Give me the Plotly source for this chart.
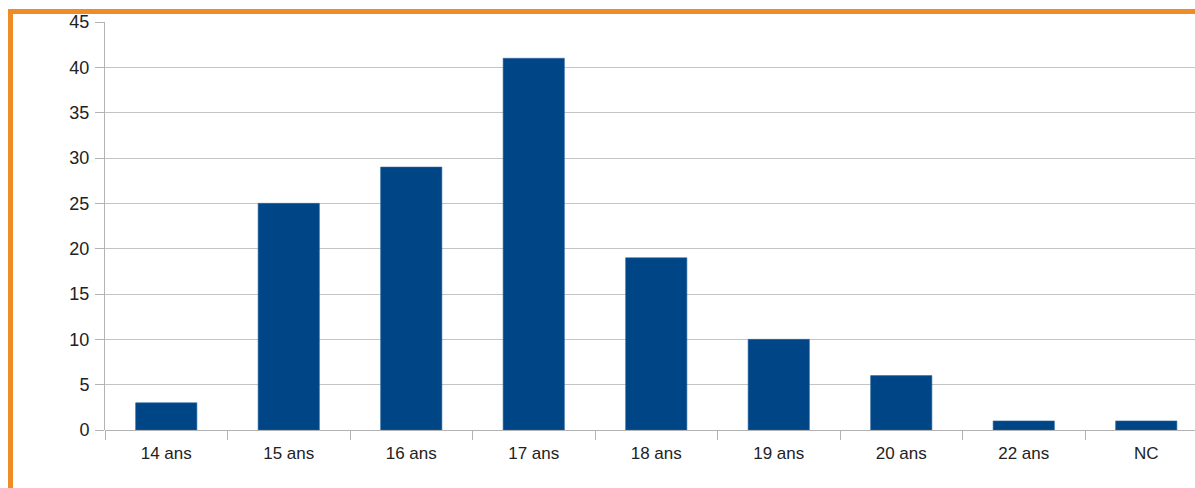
import plotly.graph_objects as go

categories = ["14 ans", "15 ans", "16 ans", "17 ans", "18 ans", "19 ans", "20 ans", "22 ans", "NC"]
values = [3, 25, 29, 41, 19, 10, 6, 1, 1]
y_ticks = [0, 5, 10, 15, 20, 25, 30, 35, 40, 45]

W, H = 1195, 488
L, T, B = 105, 22, 58
plot_w = W - L
plot_h = H - T - B
cat_px = 122.5
n_visible = plot_w / cat_px

fig = go.Figure()
fig.add_trace(go.Bar(
    x=categories, y=values, width=0.5,
    marker=dict(color="#004586", line=dict(color="#2a6aa8", width=0.6)),
    hoverinfo="x+y",
))

font = dict(family="Liberation Sans, Arial, sans-serif", size=18, color="#222222")

fig.update_layout(
    width=W, height=H,
    margin=dict(l=L, r=0, t=T, b=B, pad=0),
    paper_bgcolor="white", plot_bgcolor="white",
    showlegend=False, bargap=0.5,
    font=font,
    xaxis=dict(
        type="category", range=[-0.5, -0.5 + n_visible],
        showgrid=False, showline=False, zeroline=False,
        ticks="outside", tickson="boundaries", ticklen=9, tickcolor="#b3b3b3", tickwidth=1,
        tickfont=dict(size=17, color="#222222"),
        ticklabelstandoff=11,
        fixedrange=True,
    ),
    yaxis=dict(
        range=[0, 45], tickvals=y_ticks,
        showgrid=True, gridcolor="#c4c4c4", gridwidth=1,
        showline=True, linecolor="#b3b3b3", linewidth=1,
        zeroline=True, zerolinecolor="#b3b3b3", zerolinewidth=1,
        ticks="outside", ticklen=9, tickcolor="#b3b3b3",
        tickfont=dict(size=18, color="#222222"),
        ticklabelstandoff=2,
        fixedrange=True,
    ),
)

def px_x(px):
    return (px - L) / plot_w

def px_y(py):
    return (H - B - py) / plot_h

orange = "#f08c28"
fig.add_shape(type="line", xref="paper", yref="paper",
              x0=px_x(8), x1=px_x(W + 5), y0=px_y(11.5), y1=px_y(11.5),
              line=dict(color=orange, width=5), layer="above")
fig.add_shape(type="line", xref="paper", yref="paper",
              x0=px_x(10.5), x1=px_x(10.5), y0=px_y(9), y1=px_y(H + 5),
              line=dict(color=orange, width=5), layer="above")

fig.write_html(
    "out.html",
    config=dict(displayModeBar=False),
    post_script="document.body.style.margin='0';document.body.style.overflow='hidden';",
)
